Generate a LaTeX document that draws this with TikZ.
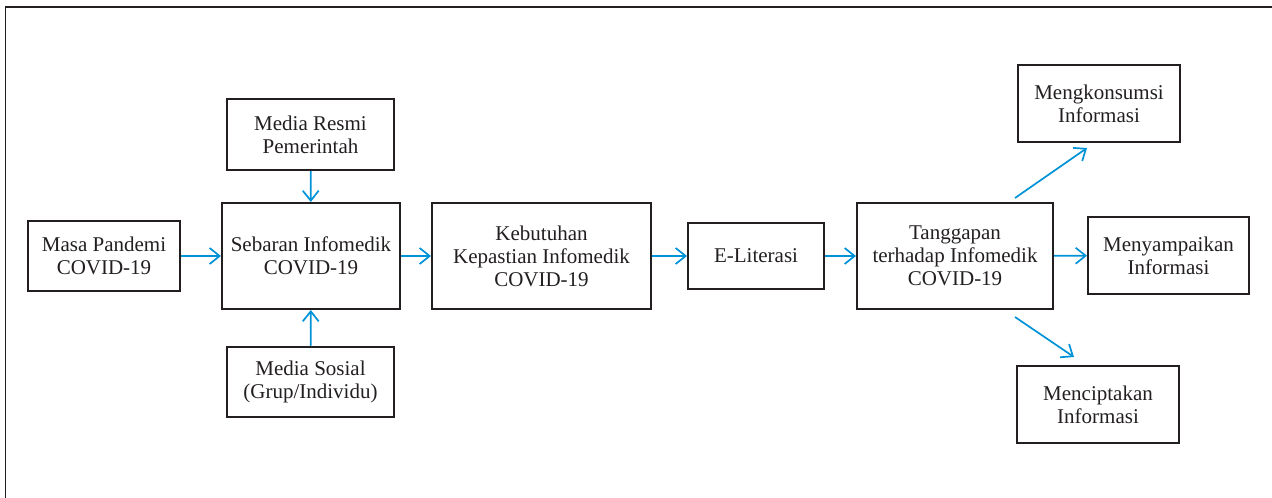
\documentclass[tikz,border=0pt]{standalone}
\usepackage{fontspec}
\setmainfont{Liberation Serif}
\usepackage{xcolor}
\usepackage{tikz}
\usetikzlibrary{positioning,arrows.meta}

\definecolor{inkgray}{RGB}{35,31,32}
\definecolor{arrowblue}{RGB}{0,146,214}

\begin{document}
\begin{tikzpicture}[x=1pt, y=-1pt,
    every node/.style={font=\fontsize{21}{23}\selectfont, text=inkgray},
    box/.style={draw=inkgray, line width=2pt, align=center, inner sep=0pt},
    arr/.style={draw=arrowblue, line width=1.7pt, -{Straight Barb[length=10pt,width=16pt]}}]
    \useasboundingbox (0,0) rectangle (1272,498);
    \clip (0,0) rectangle (1272,498);
    \draw[inkgray, line width=1.5pt] (1290,7) -- (5.5,7) -- (5.5,510);

    % input side
    \node[box, minimum width=152pt, minimum height=70pt] (masa) at (104,256) {Masa Pandemi\\COVID-19};
    \node[box, minimum width=178pt, minimum height=106pt] (sebaran) at (311,256) {Sebaran Infomedik\\COVID-19};
    \node[box, minimum width=167pt, minimum height=71pt] (resmi) at (310.5,134.5) {Media Resmi\\Pemerintah};
    \node[box, minimum width=167pt, minimum height=70pt] (sosial) at (310.5,382) {Media Sosial\\(Grup/Individu)};
    \node[box, minimum width=219pt, minimum height=106pt] (kebutuhan) at (541.5,256) {Kebutuhan\\Kepastian Infomedik\\COVID-19};
    \node[box, minimum width=136pt, minimum height=66pt] (eliterasi) at (756,256) {E-Literasi};
    \node[box, minimum width=196pt, minimum height=106pt] (tanggapan) at (955,256) {Tanggapan\\terhadap Infomedik\\COVID-19};

    % responses
    \node[box, minimum width=162pt, minimum height=77pt] (konsumsi) at (1099,103.5) {Mengkonsumsi\\Informasi};
    \node[box, minimum width=161pt, minimum height=77pt] (sampaikan) at (1168.5,255.5) {Menyampaikan\\Informasi};
    \node[box, minimum width=162pt, minimum height=77pt] (cipta) at (1098,404.5) {Menciptakan\\Informasi};

    \draw[arr] (masa) -- (sebaran);
    \draw[arr] (resmi) -- (sebaran);
    \draw[arr] (sosial) -- (sebaran);
    \draw[arr] (sebaran) -- (kebutuhan);
    \draw[arr] (kebutuhan) -- (eliterasi);
    \draw[arr] (eliterasi) -- (tanggapan);
    \draw[arr] (tanggapan) -- (sampaikan);
    \draw[arr] ([xshift=60pt,yshift=4pt]tanggapan.north) -- ([xshift=-12pt,yshift=-5pt]konsumsi.south);
    \draw[arr] ([xshift=60pt,yshift=-7pt]tanggapan.south) -- ([xshift=-24pt,yshift=8pt]cipta.north);
\end{tikzpicture}
\end{document}
